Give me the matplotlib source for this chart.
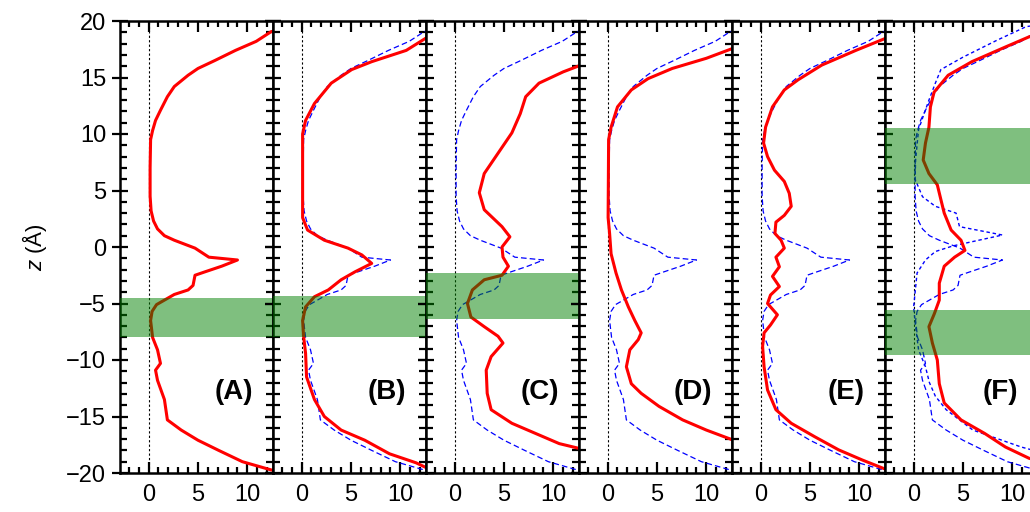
import numpy as np
import matplotlib
matplotlib.use("Agg")
from matplotlib import pyplot as plt
from matplotlib.ticker import MultipleLocator

plt.rcParams['font.family'] = ['Liberation Sans', 'DejaVu Sans']
plt.rcParams['mathtext.fontset'] = 'custom'
plt.rcParams['mathtext.it'] = 'Liberation Sans:italic'
plt.rcParams['mathtext.rm'] = 'Liberation Sans'

# reference profile (panel A), read top to bottom as (x, z)
ref_x = [13.0, 12.4, 10.9, 8.8, 6.7, 5.0, 4.0, 2.6, 1.9, 1.2, 0.7, 0.4, 0.2, 0.15, 0.15, 0.25, 0.5, 0.9,
         1.6, 2.6, 4.7, 6.1, 9.0, 7.4, 5.7, 4.7, 4.5, 4.0, 2.6, 1.6, 0.8, 0.35, 0.2, 0.4, 0.9, 1.2,
         0.7, 0.9, 1.6, 1.9, 3.3, 5.0, 7.1, 9.5, 12.3, 13.0]
ref_z = [19.2, 19.05, 18.2, 17.4, 16.5, 15.8, 15.2, 14.2, 13.3, 12.1, 11.2, 10.3, 9.5, 7.0, 4.5, 3.2, 2.3, 1.6,
         1.0, 0.6, -0.1, -0.9, -1.15, -1.7, -2.2, -2.5, -3.4, -3.8, -4.2, -4.7, -5.1, -5.7, -6.5, -8.0, -9.1, -10.3,
         -10.9, -11.8, -13.5, -15.3, -16.2, -17.1, -18.0, -19.0, -19.7, -19.85]

b_x = [13.2, 12.8, 10.6, 7.1, 5.07, 3.0, 1.3, 0.4, 0.1, 0.1, 0.6, 2.3, 4.7, 6.1, 7.1, 5.4,
       4.0, 2.7, 1.3, 0.4, 0.1, 0.2, 0.4, 0.5, 1.3, 2.3, 4.0, 6.4, 8.9, 11.6, 12.8]
b_z = [18.8, 18.6, 17.4, 16.4, 15.7, 14.5, 12.7, 11.2, 10.0, 2.6, 1.5, 0.6, -0.1, -0.7, -1.45, -2.2,
       -2.9, -3.8, -4.4, -5.3, -6.5, -7.9, -9.4, -11.5, -13.5, -15.0, -16.2, -17.1, -18.3, -19.1, -19.6]

c_x = [12.8, 12.5, 11.0, 8.55, 7.2, 6.65, 5.8, 4.4, 3.0, 2.5, 3.0, 4.8, 5.6, 4.8, 4.9, 5.45,
       4.8, 3.0, 1.8, 1.3, 1.65, 3.0, 4.4, 4.9, 3.7, 3.2, 3.3, 3.7, 5.8, 8.2, 10.6, 12.5, 12.8]
c_z = [16.1, 16.0, 15.5, 14.5, 13.3, 11.8, 10.1, 8.3, 6.5, 4.8, 3.3, 1.8, 0.9, 0.0, -0.9, -1.7,
       -2.5, -2.9, -3.8, -5.0, -6.2, -7.05, -7.9, -8.5, -9.7, -10.9, -12.95, -14.4, -15.6, -16.5, -17.4, -17.8, -17.9]

d_x = [13.0, 12.75, 10.0, 6.55, 4.1, 2.4, 1.0, 0.35, 0.1, 0.05, 0.2, 0.35, 0.85, 1.4, 2.1, 2.75,
       3.4, 3.1, 2.25, 1.9, 2.4, 3.4, 5.2, 7.6, 10.0, 12.75, 13.0]
d_z = [17.7, 17.6, 16.7, 15.8, 14.9, 13.9, 12.4, 10.6, 9.5, 2.6, 1.2, -0.6, -2.3, -3.8, -5.3, -6.5,
       -7.6, -8.2, -9.1, -10.6, -12.1, -12.95, -14.1, -15.3, -16.2, -17.1, -17.2]

e_x = [13.0, 12.75, 9.65, 6.2, 3.8, 2.4, 1.2, 0.5, 0.3, 0.7, 1.4, 2.4, 2.9, 3.1, 2.4, 1.55,
       1.45, 2.07, 2.4, 1.55, 1.9, 1.2, 1.9, 1.0, 0.7, 1.7, 1.0, 0.35, 0.2, 0.35, 0.7, 1.55,
       3.1, 5.5, 7.9, 10.3, 12.75, 13.0]
e_z = [18.6, 18.5, 17.4, 16.1, 14.8, 13.9, 12.4, 10.6, 9.2, 8.0, 6.8, 5.8, 4.75, 3.6, 2.8, 2.2,
       1.2, 0.6, -0.1, -0.9, -1.75, -2.6, -3.5, -4.25, -5.0, -6.0, -6.9, -7.6, -8.8, -10.6, -12.65, -14.4,
       -15.6, -16.8, -17.95, -18.85, -19.7, -19.8]

f_x = [13.5, 11.7, 9.3, 5.9, 3.5, 2.07, 1.7, 1.55, 1.2, 0.97, 1.55, 2.4, 2.76, 3.1, 3.8, 4.8,
       5.2, 4.15, 3.1, 2.6, 2.6, 2.1, 1.55, 1.9, 2.4, 2.6, 3.1, 4.8, 7.2, 9.3, 11.7, 13.5]
f_z = [19.0, 18.6, 17.7, 16.4, 15.2, 13.7, 12.4, 10.6, 9.2, 7.7, 6.5, 5.5, 4.2, 3.0, 1.5, 0.6,
       -0.3, -0.9, -1.7, -3.2, -4.7, -5.9, -7.05, -8.5, -10.0, -12.1, -13.8, -15.3, -16.5, -17.7, -18.7, -19.1]

# second reference profile, shown only with panel F
ref2_x = [13.0, 11.4, 8.45, 5.0, 2.76, 2.2, 1.55, 0.5, 0.2, 0.15, 0.9, 2.2, 4.3, 4.65, 9.0, 4.0,
          2.2, 1.2, 0.35, 0.0, 0.2, 0.5, 1.2, 1.6, 2.2, 3.3, 6.0, 10.9, 13.0]
ref2_z = [19.7, 19.5, 18.3, 16.8, 15.7, 14.5, 13.0, 10.4, 7.7, 6.0, 4.45, 3.6, 3.0, 1.8, 1.06, 0.1,
          -0.4, -1.15, -2.3, -5.3, -7.05, -9.1, -10.6, -12.0, -13.2, -14.4, -16.2, -17.7, -18.2]

panel_x = [ref_x, b_x, c_x, d_x, e_x, f_x]
panel_z = [ref_z, b_z, c_z, d_z, e_z, f_z]
labels = ["(A)", "(B)", "(C)", "(D)", "(E)", "(F)"]
bands = [[(-8.0, -4.5)], [(-8.0, -4.3)], [(-6.4, -2.3)], [], [], [(5.55, 10.55), (-9.55, -5.6)]]

fig = plt.figure(figsize=(10.3, 5.12), dpi=100)

W, H = 1030.0, 512.0
for i in range(6):
    left = (120 + 153 * i) / W
    ax = fig.add_axes([left, 1 - 473 / H, 153 / W, (473 - 21) / H])
    ax.set_xlim(-2.9, 12.6)
    ax.set_ylim(-20, 20)

    ax.axvline(0, color="black", linestyle=(0, (2, 2)), linewidth=0.8, zorder=1)

    if i > 0:
        ax.plot(ref_x, ref_z, color="blue", linestyle=(0, (4.5, 2.5)), linewidth=0.9, zorder=2)
    if i == 5:
        ax.plot(ref2_x, ref2_z, color="blue", linestyle=(0, (2.5, 2)), linewidth=1.0, zorder=2)
    ax.plot(panel_x[i], panel_z[i], color="red", linewidth=2.2, zorder=2.2)

    for lo, hi in bands[i]:
        ax.axhspan(lo, hi, color="green", alpha=0.5, linewidth=0, zorder=3)

    ax.text(0.87, 0.179, labels[i], transform=ax.transAxes, ha="right", va="center",
            fontsize=20, fontweight="bold")

    ax.xaxis.set_major_locator(MultipleLocator(5))
    ax.xaxis.set_minor_locator(MultipleLocator(1))
    ax.yaxis.set_major_locator(MultipleLocator(5))
    ax.yaxis.set_minor_locator(MultipleLocator(1))
    ax.tick_params(which="both", top=True, right=True, direction="in", width=1.6,
                   labelsize=17)
    ax.tick_params(axis="y", which="major", direction="inout", length=12, pad=4)
    ax.tick_params(axis="y", which="minor", length=5)
    ax.tick_params(axis="x", which="major", length=8, pad=8)
    ax.tick_params(axis="x", which="minor", length=4)
    for s in ax.spines.values():
        s.set_linewidth(1.8)
    if i == 0:
        ax.set_ylabel(r"$z$ (Å)", fontsize=16, labelpad=12)
    else:
        ax.tick_params(labelleft=False)

fig.savefig("out.png", dpi=100)
